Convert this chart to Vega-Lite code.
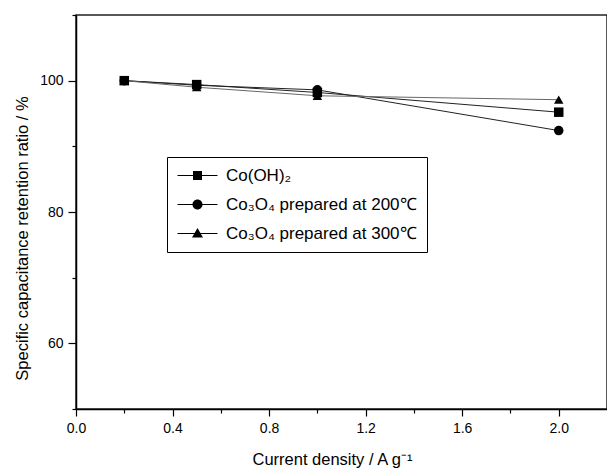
{
  "$schema": "https://vega.github.io/schema/vega-lite/v6.json",
  "width": 531,
  "height": 394,
  "autosize": {"type": "none"},
  "padding": {"left": 76, "top": 15, "right": 0, "bottom": 62},
  "background": "white",
  "config": {
    "font": "Liberation Sans",
    "view": {"stroke": "#222", "strokeWidth": 1.5},
    "axis": {"grid": false, "domainColor": "#000", "domainWidth": 1.5, "tickColor": "#000", "tickWidth": 1.2, "labelFont": "Liberation Sans", "labelFontSize": 14, "labelColor": "#000", "titleFont": "Liberation Sans", "titleFontSize": 16.5, "titleFontWeight": "normal", "titleColor": "#000"}
  },
  "data": {"values": [
    {"series": "Co(OH)₂", "x": 0.2, "y": 100},
    {"series": "Co(OH)₂", "x": 0.5, "y": 99.4},
    {"series": "Co(OH)₂", "x": 1.0, "y": 98.2},
    {"series": "Co(OH)₂", "x": 2.0, "y": 95.2},
    {"series": "Co₃O₄ prepared at 200℃", "x": 0.2, "y": 100},
    {"series": "Co₃O₄ prepared at 200℃", "x": 0.5, "y": 99.3},
    {"series": "Co₃O₄ prepared at 200℃", "x": 1.0, "y": 98.6},
    {"series": "Co₃O₄ prepared at 200℃", "x": 2.0, "y": 92.4},
    {"series": "Co₃O₄ prepared at 300℃", "x": 0.2, "y": 100},
    {"series": "Co₃O₄ prepared at 300℃", "x": 0.5, "y": 99.0},
    {"series": "Co₃O₄ prepared at 300℃", "x": 1.0, "y": 97.7},
    {"series": "Co₃O₄ prepared at 300℃", "x": 2.0, "y": 97.1}
  ]},
  "encoding": {
    "x": {"field": "x", "type": "quantitative", "scale": {"domain": [0, 2.2], "nice": false, "zero": false},
      "axis": {"title": "Current density / A g⁻¹", "values": [0, 0.2, 0.4, 0.6, 0.8, 1.0, 1.2, 1.4, 1.6, 1.8, 2.0], "format": ".1f",
        "labelExpr": "abs(datum.value*10 % 4) < 0.01 || abs(datum.value*10 % 4 - 4) < 0.01 ? datum.label : ''",
        "tickSize": {"condition": {"test": "abs(datum.value*10 % 4) < 0.01 || abs(datum.value*10 % 4 - 4) < 0.01", "value": 7}, "value": 4},
        "labelPadding": 5, "titlePadding": 16, "titleX": 256, "labelFlush": false}},
    "y": {"field": "y", "type": "quantitative", "scale": {"domain": [50, 110], "nice": false, "zero": false},
      "axis": {"title": "Specific capacitance retention ratio / %", "values": [50, 60, 70, 80, 90, 100, 110],
        "labelExpr": "datum.value == 60 || datum.value == 80 || datum.value == 100 ? datum.label : ''",
        "tickSize": {"condition": {"test": "datum.value == 60 || datum.value == 80 || datum.value == 100", "value": 8}, "value": 4},
        "labelPadding": 5, "titlePadding": 9, "titleY": 223}}
  },
  "layer": [
    {
      "mark": {"type": "line", "strokeWidth": 1},
      "encoding": {
        "detail": {"field": "series", "type": "nominal"},
        "color": {"condition": {"test": "datum.series == 'Co₃O₄ prepared at 300℃'", "value": "#666"}, "value": "#222"}
      }
    },
    {
      "mark": {"type": "point", "filled": true, "color": "#000", "opacity": 1, "size": 90},
      "encoding": {
        "shape": {"field": "series", "type": "nominal", "legend": null,
          "scale": {"domain": ["Co(OH)₂", "Co₃O₄ prepared at 200℃", "Co₃O₄ prepared at 300℃"], "range": ["square", "circle", "triangle-up"]}}
      }
    },
    {
      "transform": [{"filter": "false"}],
      "mark": {"type": "point", "filled": true, "color": "#000", "opacity": 1, "size": 100},
      "encoding": {
        "shape": {"field": "series", "type": "nominal",
          "scale": {"domain": ["Co(OH)₂", "Co₃O₄ prepared at 200℃", "Co₃O₄ prepared at 300℃"],
            "range": ["M-4,-0.1H4V0.1H-4ZM-0.9,-0.9H0.9V0.9H-0.9Z", "M-4,-0.1H4V0.1H-4ZM1,0A1,1,0,1,1,-1,0A1,1,0,1,1,1,0Z", "M-4,-0.1H4V0.1H-4ZM0,-1.1L1.1,0.8H-1.1Z"]},
          "legend": {
            "title": null, "orient": "none", "legendX": 91, "legendY": 142,
            "strokeColor": "#000", "padding": 10, "rowPadding": 11,
            "symbolSize": 100, "symbolOffset": 12, "labelOffset": 20,
            "labelFont": "Liberation Sans", "labelFontSize": 17, "labelColor": "#000", "labelLimit": 400,
            "symbolFillColor": "#000", "symbolStrokeWidth": 0
          }
        }
      }
    }
  ],
  "resolve": {"scale": {"shape": "independent"}}
}
